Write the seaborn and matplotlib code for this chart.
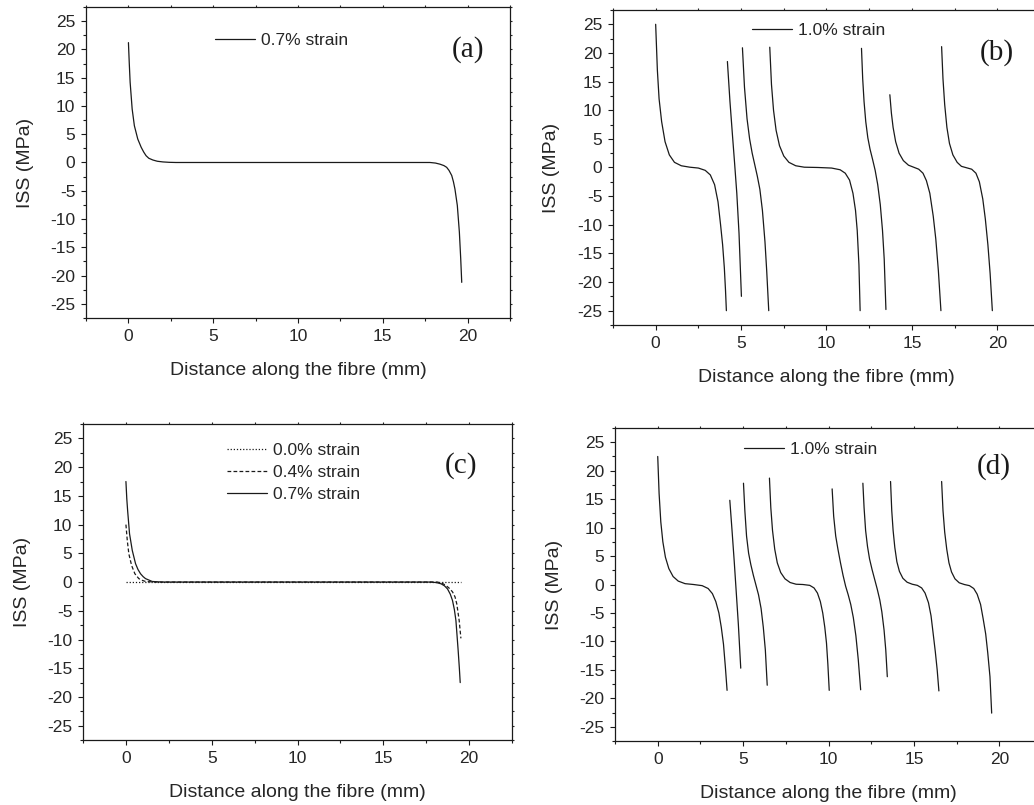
import numpy as np
import pandas as pd
import matplotlib
matplotlib.use("Agg")
import matplotlib.pyplot as plt
import seaborn as sns
from matplotlib.ticker import MultipleLocator
from matplotlib.lines import Line2D

sns.set_theme(style="white")
plt.rcParams['font.family'] = ['Liberation Sans', 'DejaVu Sans']
plt.rcParams['axes.unicode_minus'] = False

# ---------------- data ----------------
# (a) 0.7 % strain, single unbroken fibre
a_x = [0, 0.05, 0.1, 0.22, 0.35, 0.55, 0.75, 0.9, 1.04, 1.2, 1.44, 1.7, 2.03, 2.4, 2.8,
       17.78, 18.1, 18.37, 18.6, 18.76, 18.9, 19.06, 19.16, 19.25, 19.39, 19.51, 19.59, 19.65]
a_y = [21.2, 17.5, 14.2, 9.45, 6.5, 4.15, 2.7, 1.85, 1.2, 0.75, 0.44, 0.22, 0.1, 0.03, 0.0,
       0.0, -0.1, -0.3, -0.55, -0.85, -1.4, -2.3, -3.4, -4.7, -7.6, -12.3, -17.0, -21.2]
a_label = "0.7% strain"

# (b) 1.0 % strain, fragmented fibre
b_frag_x = [
    [0, 0.1, 0.2, 0.35, 0.55, 0.8, 1.1, 1.5, 2.0, 2.5, 2.9, 3.2, 3.45, 3.65, 3.8, 3.92, 4.02, 4.09, 4.14],
    [4.2, 4.35, 4.5, 4.62, 4.75, 4.88, 5.02],
    [5.08, 5.2, 5.35, 5.5, 5.65, 5.8, 5.95, 6.1, 6.25, 6.4, 6.5, 6.62],
    [6.68, 6.78, 6.9, 7.05, 7.25, 7.5, 7.8, 8.2, 8.7, 9.5, 10.3, 10.8, 11.1, 11.35, 11.55, 11.7, 11.8, 11.9, 11.97],
    [12.05, 12.12, 12.2, 12.3, 12.42, 12.55, 12.7, 12.85, 13.0, 13.15, 13.28, 13.38, 13.48],
    [13.71, 13.8, 13.9, 14.05, 14.25, 14.5, 14.8, 15.1, 15.4, 15.65, 15.85, 16.05, 16.25, 16.4, 16.55, 16.7],
    [16.74, 16.82, 16.92, 17.05, 17.2, 17.4, 17.65, 17.9, 18.2, 18.5, 18.75, 18.95, 19.15, 19.3, 19.45, 19.58, 19.71],
]
b_frag_y = [
    [25, 17, 12, 8, 4.5, 2.2, 0.9, 0.3, 0.05, -0.1, -0.5, -1.3, -3.0, -6.0, -10, -13.5, -17.5, -21.5, -25],
    [18.5, 11.5, 5.5, 0.8, -4.5, -11.5, -22.5],
    [20.9, 14, 8.5, 5, 2.5, 0.5, -1.5, -3.8, -7.5, -13, -18, -25],
    [21, 14.5, 10, 6.5, 3.8, 2.0, 0.9, 0.3, 0.05, 0, -0.1, -0.4, -1.0, -2.2, -4.5, -7.5, -11, -17, -25],
    [20.8, 15.5, 11.5, 8, 5.2, 3.2, 1.4, -0.5, -3.0, -6.5, -11, -16, -24.8],
    [12.7, 9.5, 7, 4.5, 2.5, 1.2, 0.4, 0.05, -0.3, -1.0, -2.3, -4.5, -8.5, -12.5, -18, -25],
    [21.1, 15.5, 11, 7, 4.2, 2.2, 0.9, 0.2, -0.05, -0.3, -1.0, -2.5, -5.5, -9, -13.5, -18.5, -25],
]
b_label = "1.0% strain"

# (c) unloading / loading sequence
c_labels = ["0.0% strain", "0.4% strain", "0.7% strain"]
c00_x = [0, 19.52]
c00_y = [0, 0]
c04_x = [0, 0.08, 0.17, 0.33, 0.52, 0.75, 0.95, 1.14, 1.7, 18.16, 18.45, 18.65, 18.85, 19.03, 19.18, 19.28, 19.42, 19.52]
c04_y = [10, 7.2, 4.9, 2.9, 1.45, 0.6, 0.3, 0.1, 0, 0, -0.25, -0.6, -1.1, -1.7, -2.6, -3.8, -6.7, -9.8]
c07_x = [0, 0.05, 0.1, 0.21, 0.37, 0.56, 0.7, 0.85, 1.0, 1.14, 1.53, 2.1, 17.78, 18.1, 18.36, 18.56, 18.74, 18.9, 19.03, 19.14, 19.23, 19.36, 19.43, 19.48]
c07_y = [17.5, 14.5, 12.4, 8.4, 5.5, 3.2, 2.2, 1.45, 0.95, 0.6, 0.1, 0, 0, -0.1, -0.3, -0.65, -1.2, -2.1, -3.2, -4.8, -6.7, -11.9, -15.0, -17.5]

# (d) 1.0 % strain, second fibre
d_frag_x = [
    [0, 0.08, 0.18, 0.3, 0.45, 0.65, 0.9, 1.2, 1.6, 2.1, 2.6, 2.95, 3.2, 3.4, 3.58, 3.72, 3.85, 3.96, 4.06],
    [4.22, 4.35, 4.48, 4.6, 4.72, 4.86],
    [5.02, 5.1, 5.2, 5.32, 5.45, 5.6, 5.75, 5.9, 6.05, 6.18, 6.3, 6.41],
    [6.54, 6.62, 6.72, 6.85, 7.0, 7.2, 7.45, 7.75, 8.1, 8.5, 8.9, 9.15, 9.35, 9.52, 9.66, 9.78, 9.88, 9.96, 10.04],
    [10.21, 10.3, 10.42, 10.55, 10.7, 10.85, 11.0, 11.15, 11.3, 11.45, 11.6, 11.74, 11.88],
    [12.01, 12.08, 12.17, 12.28, 12.4, 12.55, 12.7, 12.85, 13.0, 13.12, 13.25, 13.35, 13.44],
    [13.63, 13.7, 13.78, 13.88, 14.0, 14.15, 14.35, 14.6, 14.9, 15.2, 15.45, 15.65, 15.85, 16.0, 16.12, 16.25, 16.36, 16.46],
    [16.62, 16.7, 16.8, 16.92, 17.05, 17.2, 17.4, 17.65, 17.95, 18.25, 18.5, 18.7, 18.9, 19.05, 19.2, 19.32, 19.45, 19.55],
]
d_frag_y = [
    [22.5, 16, 11, 7.5, 4.8, 2.8, 1.4, 0.6, 0.15, 0, -0.2, -0.7, -1.6, -3, -5, -7.5, -10.5, -14.5, -18.6],
    [14.8, 9.5, 4, -1.5, -7, -14.7],
    [17.8, 13, 8.5, 5.5, 3.5, 1.6, -0.1, -1.8, -4.2, -7.5, -11.5, -17.7],
    [18.7, 13.5, 9.5, 6.2, 3.8, 2.1, 1.0, 0.35, 0.05, 0, -0.15, -0.6, -1.5, -3, -5, -7.5, -10.3, -14, -18.6],
    [16.8, 12, 8.5, 6.2, 3.8, 1.6, -0.3, -1.8, -3.5, -5.8, -9, -13.2, -18.5],
    [17.8, 13.5, 9.5, 6.7, 4.5, 2.6, 0.9, -0.8, -2.7, -4.8, -8, -11.5, -16.2],
    [18.1, 13, 9.5, 6.5, 4.0, 2.3, 1.1, 0.4, 0.05, -0.15, -0.6, -1.5, -3.2, -5.5, -8.5, -11.8, -15, -18.7],
    [18.1, 13, 9.2, 6.2, 3.8, 2.2, 1.0, 0.3, 0.0, -0.2, -0.7, -1.7, -3.5, -6, -8.7, -12, -16.2, -22.6],
]
d_label = "1.0% strain"

x_title = "Distance along the fibre (mm)"
y_title = "ISS (MPa)"
panel_tags = ["(a)", "(b)", "(c)", "(d)"]

# ---------------- helpers ----------------
LW = 0.9
TICK_FS = 12.5
LEG_FS = 12.5


def frag_frame(xs, ys, label):
    rows = []
    for i, (sx, sy) in enumerate(zip(xs, ys)):
        for xv, yv in zip(sx, sy):
            rows.append((xv, yv, i, label))
    return pd.DataFrame(rows, columns=["x", "y", "seg", "strain"])


def style_axes(ax):
    ax.set_xlim(-2.5, 22.5)
    ax.set_ylim(-27.5, 27.5)
    ax.xaxis.set_major_locator(MultipleLocator(5))
    ax.xaxis.set_minor_locator(MultipleLocator(2.5))
    ax.yaxis.set_major_locator(MultipleLocator(5))
    ax.yaxis.set_minor_locator(MultipleLocator(2.5))
    ax.set_xticks([0, 5, 10, 15, 20])
    ax.tick_params(axis="both", which="major", direction="out", length=3.6,
                   width=0.8, labelsize=TICK_FS, pad=4, color="k",
                   bottom=True, left=True, top=False, right=False)
    ax.tick_params(axis="both", which="minor", direction="out", length=2.2,
                   width=0.8, color="k", bottom=True, left=True,
                   top=False, right=False)
    for s in ax.spines.values():
        s.set_visible(True)
        s.set_color("k")
        s.set_linewidth(0.9)
    # small outward ticks on the top and right frame
    sec_x = ax.secondary_xaxis("top")
    sec_x.xaxis.set_major_locator(MultipleLocator(2.5))
    sec_x.tick_params(direction="out", length=1.4, width=0.8, labeltop=False)
    sec_x.spines["top"].set_visible(False)
    sec_y = ax.secondary_yaxis("right")
    sec_y.yaxis.set_major_locator(MultipleLocator(2.5))
    sec_y.tick_params(direction="out", length=1.4, width=0.8, labelright=False)
    sec_y.spines["right"].set_visible(False)
    ax.set_xlabel(x_title, fontsize=14, labelpad=13)
    ax.set_ylabel(y_title, fontsize=14, labelpad=12)
    ax.grid(False)


def add_legend(ax, handles, labels, anchor, spacing=0.15):
    ax.legend(handles, labels, loc="upper left", bbox_to_anchor=anchor,
              frameon=False, fontsize=LEG_FS, handlelength=2.3,
              handletextpad=0.35, borderpad=0, borderaxespad=0,
              labelspacing=spacing)


def tag(ax, x, y, s):
    ax.text(x, y, s, ha="center", va="center", fontsize=21,
            family=["Liberation Serif", "DejaVu Serif"], color="k")


# ---------------- figure ----------------
fig = plt.figure(figsize=(10.34, 8.05), dpi=100)
ax_a = fig.add_axes([0.0832, 0.6050, 0.4101, 0.3863])
ax_b = fig.add_axes([0.5928, 0.5963, 0.4130, 0.3913])
ax_c = fig.add_axes([0.0803, 0.0807, 0.4149, 0.3925])
ax_d = fig.add_axes([0.5948, 0.0795, 0.4130, 0.3888])

# (a)
df_a = pd.DataFrame({"x": a_x, "y": a_y})
sns.lineplot(data=df_a, x="x", y="y", sort=False, estimator=None,
             color="k", lw=LW, ax=ax_a, legend=False)
style_axes(ax_a)
add_legend(ax_a, [Line2D([], [], color="k", lw=LW)], [a_label], (0.304, 0.917))
tag(ax_a, 20.0, 20.0, panel_tags[0])

# (b)
df_b = frag_frame(b_frag_x, b_frag_y, b_label)
sns.lineplot(data=df_b, x="x", y="y", units="seg", sort=False,
             estimator=None, color="k", lw=LW, ax=ax_b, legend=False)
style_axes(ax_b)
add_legend(ax_b, [Line2D([], [], color="k", lw=LW)], [b_label], (0.326, 0.958))
tag(ax_b, 20.0, 20.0, panel_tags[1])

# (c)
c_dashes = {c_labels[0]: (1, 1.5), c_labels[1]: (3, 1.8), c_labels[2]: ""}
df_c = pd.concat([
    pd.DataFrame({"x": c00_x, "y": c00_y, "strain": c_labels[0]}),
    pd.DataFrame({"x": c04_x, "y": c04_y, "strain": c_labels[1]}),
    pd.DataFrame({"x": c07_x, "y": c07_y, "strain": c_labels[2]}),
], ignore_index=True)
sns.lineplot(data=df_c, x="x", y="y", hue="strain", style="strain",
             palette=["k", "k", "k"], dashes=c_dashes, sort=False,
             estimator=None, lw=LW, ax=ax_c, legend=False)
style_axes(ax_c)
c_handles = [Line2D([], [], color="k", lw=LW, dashes=(1, 1.5)),
             Line2D([], [], color="k", lw=LW, dashes=(3, 1.8)),
             Line2D([], [], color="k", lw=LW)]
add_legend(ax_c, c_handles, c_labels, (0.336, 0.94), spacing=0.4)
tag(ax_c, 19.5, 20.3, panel_tags[2])

# (d)
df_d = frag_frame(d_frag_x, d_frag_y, d_label)
sns.lineplot(data=df_d, x="x", y="y", units="seg", sort=False,
             estimator=None, color="k", lw=LW, ax=ax_d, legend=False)
style_axes(ax_d)
add_legend(ax_d, [Line2D([], [], color="k", lw=LW)], [d_label], (0.302, 0.955))
tag(ax_d, 19.7, 20.7, panel_tags[3])

fig.savefig("out.png", dpi=100, facecolor="white")
